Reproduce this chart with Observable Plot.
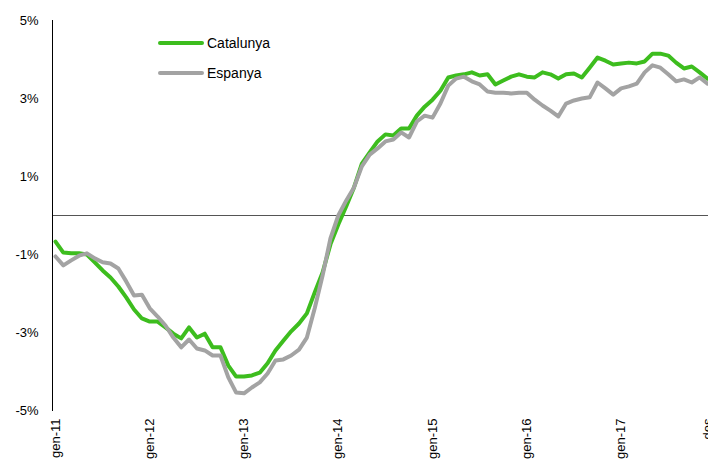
<!DOCTYPE html>
<html><head><meta charset="utf-8">
<script src="https://cdn.jsdelivr.net/npm/d3@7"></script>
<script src="https://cdn.jsdelivr.net/npm/@observablehq/plot@0.6"></script>
<style>
body{margin:0;background:#fff;font-family:"Liberation Sans",Arial,sans-serif;}
#wrap{position:relative;width:708px;height:463px;overflow:hidden}
.leg{position:absolute;left:158px;font-size:14px;display:flex;align-items:center;color:#000;height:16px}
.sw{width:46px;height:4px;margin-right:3px;border-radius:2px}
</style></head><body><div id="wrap"></div>
<script>
const seriesNames = ["Catalunya", "Espanya"];
const seriesColors = ["#3dbd1e", "#a3a3a3"];
const catalunya = [
  -0.67, -0.95, -0.97, -0.97, -1.0, -1.2, -1.41, -1.59, -1.82, -2.1, -2.41, -2.64,
  -2.72, -2.72, -2.87, -3.03, -3.15, -2.87, -3.13, -3.03, -3.38, -3.38, -3.85, -4.13,
  -4.13, -4.1, -4.03, -3.79, -3.46, -3.21, -2.97, -2.77, -2.51, -1.97, -1.46, -0.74,
  -0.23, 0.23, 0.72, 1.33, 1.62, 1.9, 2.08, 2.05, 2.23, 2.23, 2.56, 2.79,
  2.97, 3.2, 3.54, 3.59, 3.62, 3.67, 3.59, 3.62, 3.36, 3.46, 3.56, 3.62,
  3.56, 3.54, 3.67, 3.62, 3.51, 3.62, 3.64, 3.54, 3.79, 4.05, 3.97, 3.87,
  3.9, 3.92, 3.9, 3.95, 4.15, 4.15, 4.1, 3.92, 3.77, 3.82, 3.67, 3.51
];
const espanya = [
  -1.05, -1.28, -1.15, -1.03, -0.97, -1.1, -1.2, -1.23, -1.36, -1.69, -2.05, -2.03,
  -2.38, -2.59, -2.82, -3.13, -3.38, -3.18, -3.41, -3.46, -3.59, -3.59, -4.15, -4.54,
  -4.56, -4.41, -4.28, -4.05, -3.72, -3.69, -3.59, -3.44, -3.13, -2.38, -1.54, -0.59,
  0.0, 0.38, 0.72, 1.26, 1.56, 1.72, 1.9, 1.95, 2.13, 2.0, 2.41, 2.56,
  2.51, 2.87, 3.33, 3.51, 3.56, 3.44, 3.36, 3.18, 3.15, 3.15, 3.13, 3.15,
  3.15, 2.97, 2.82, 2.69, 2.54, 2.87, 2.95, 3.0, 3.03, 3.41, 3.26, 3.1,
  3.26, 3.31, 3.38, 3.67, 3.85, 3.79, 3.62, 3.44, 3.49, 3.41, 3.54, 3.38
];
const xTickIndex = [0, 12, 24, 36, 48, 60, 72, 83];
const xTickLabels = ["gen-11", "gen-12", "gen-13", "gen-14", "gen-15", "gen-16", "gen-17", "des"];
const yTicks = [-5, -3, -1, 1, 3, 5];

const rows = [];
[catalunya, espanya].forEach((arr, s) => arr.forEach((v, i) => rows.push({i, v, s: seriesNames[s]})));

const chart = Plot.plot({
  width: 708, height: 463,
  marginLeft: 52, marginRight: 0, marginTop: 20, marginBottom: 53,
  style: {fontFamily: '"Liberation Sans", Arial, sans-serif', fontSize: "13px", color: "#000", background: "#fff"},
  x: {type: "linear", domain: [0, 83], insetLeft: 3, insetRight: 1},
  y: {domain: [-5, 5]},
  marks: [
    Plot.ruleY([0], {stroke: "#555", strokeWidth: 1}),
    Plot.frame({anchor: "left", stroke: "#000", strokeWidth: 1}),
    Plot.line(rows.filter(d => d.s === seriesNames[0]), {x: "i", y: "v", stroke: seriesColors[0], strokeWidth: 4, strokeLinejoin: "round"}),
    Plot.line(rows.filter(d => d.s === seriesNames[1]), {x: "i", y: "v", stroke: seriesColors[1], strokeWidth: 4, strokeLinejoin: "round"}),
    Plot.axisX({ticks: xTickIndex, tickFormat: d => xTickLabels[xTickIndex.indexOf(d)], tickRotate: -90, tickSize: 0, tickPadding: 8, label: null, fontSize: 13}),
    Plot.axisY({ticks: yTicks, tickFormat: d => d + "%", tickSize: 0, tickPadding: 14, label: null, fontSize: 13})
  ]
});
const wrap = document.getElementById("wrap");
wrap.appendChild(chart);
const legTops = [35, 65];
seriesNames.forEach((n, k) => {
  const d = document.createElement("div");
  d.className = "leg";
  d.style.top = legTops[k] + "px";
  d.innerHTML = `<span class="sw" style="background:${seriesColors[k]}"></span><span>${n}</span>`;
  wrap.appendChild(d);
});
</script>
</body></html>
